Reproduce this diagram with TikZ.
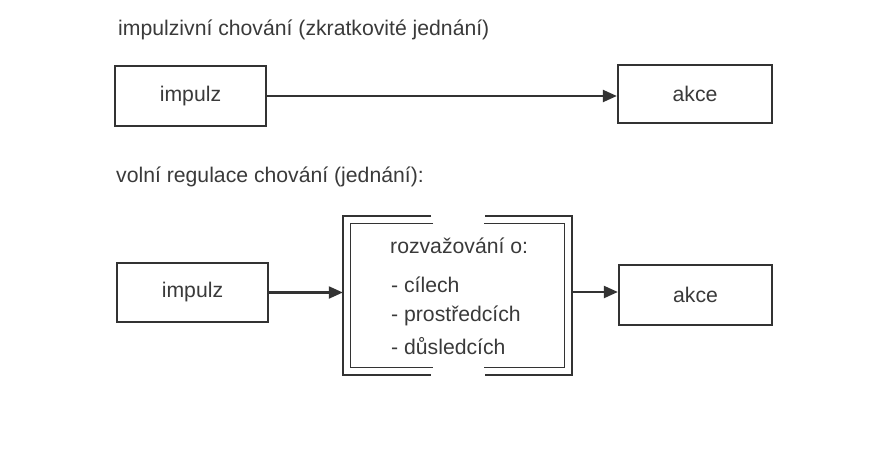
\documentclass[tikz,border=0pt]{standalone}
\usepackage{fontspec}
\setmainfont{Liberation Sans}
\usetikzlibrary{arrows.meta}
\definecolor{ink}{HTML}{333333}
\definecolor{txt}{HTML}{3A3A3A}
\tikzset{
  boxnode/.style={draw=ink, line width=2.3pt, inner sep=0pt, text=txt, font=\fontsize{21.2}{24}\selectfont},
  lbl/.style={anchor=base west, inner sep=0pt, text=txt, font=\fontsize{21.2}{24}\selectfont},
  conn/.style={draw=ink, line width=2.2pt, -{Triangle[length=14pt,width=12pt]}},
  dline/.style={draw=ink, line width=1.9pt}
}
\begin{document}
\begin{tikzpicture}[x=1pt,y=-1pt]
\useasboundingbox (0,0) rectangle (887,455);
\fill[white] (0,0) rectangle (887,455);

% titles
\node[lbl] (t1) at (118,35) {impulzivní chování (zkratkovité jednání)};
\node[lbl] (t2) at (116,182) {volní regulace chování (jednání):};

% first row
\node[boxnode, minimum width=151pt, minimum height=60pt] (imp1) at (190.5,96) {impulz};
\node[boxnode, minimum width=154pt, minimum height=58pt] (akce1) at (695,94) {akce};
\draw[conn] (imp1.east) -- (imp1.east -| akce1.west);

% second row
\node[boxnode, minimum width=151pt, minimum height=59pt] (imp2) at (192.5,292.5) {impulz};
\node[boxnode, minimum width=153pt, minimum height=60pt] (akce2) at (695.5,295) {akce};
\node[inner sep=0pt, minimum width=229pt, minimum height=159pt] (delib) at (457.5,295.5) {};

% double framed box with gaps top and bottom
\draw[dline] (431,216) -- (343,216) -- (343,375) -- (431,375);
\draw[dline] (485,375) -- (572,375) -- (572,216) -- (485,216);
\draw[dline] (433,223.5) -- (350.5,223.5) -- (350.5,367.5) -- (433,367.5);
\draw[dline] (484,367.5) -- (564.5,367.5) -- (564.5,223.5) -- (484,223.5);

\node[lbl] (r0) at (390,253) {rozvažování o:};
\node[lbl] (r1) at (391,292) {- cílech};
\node[lbl] (r2) at (391,321) {- prostředcích};
\node[lbl] (r3) at (391,354) {- důsledcích};

\coordinate (a2in) at ([yshift=3pt]akce2.west);
\draw[conn] (imp2.east) -- (imp2.east -| delib.west);
\draw[conn] (a2in -| delib.east) -- (a2in);
\end{tikzpicture}
\end{document}
